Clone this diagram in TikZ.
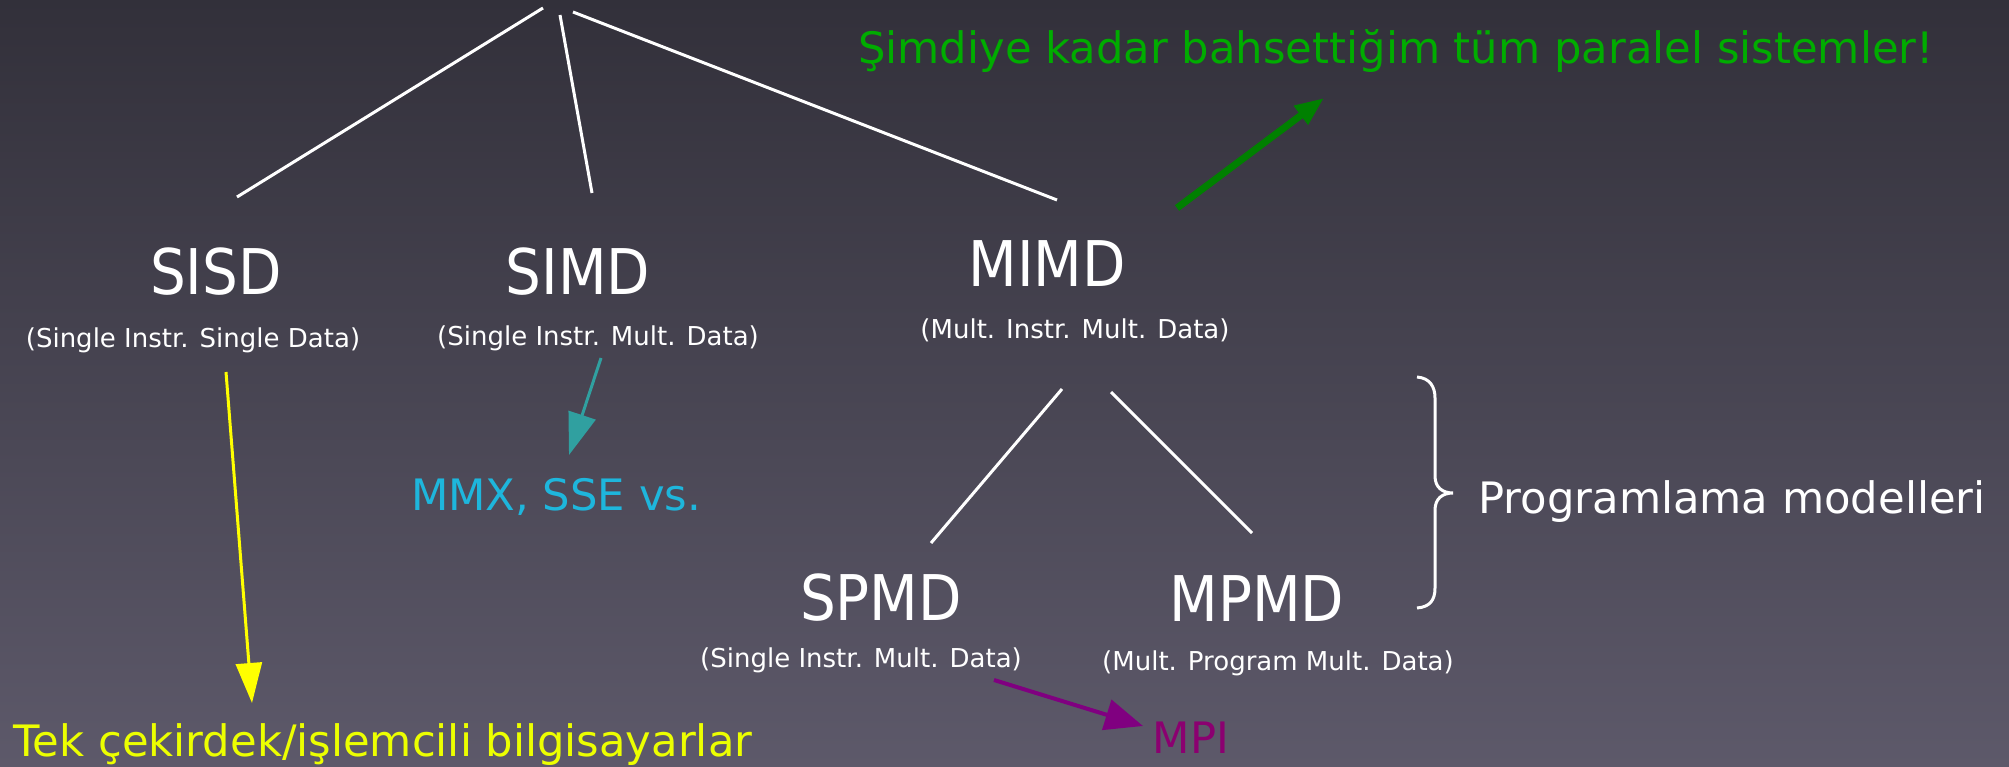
\documentclass[tikz,border=0pt]{standalone}
\usepackage{fontspec}
\setmainfont{DejaVu Sans}
\newfontfamily\narrowsans[FakeStretch=0.895]{DejaVu Sans}
\usetikzlibrary{arrows.meta}

\definecolor{bgtop}{RGB}{50,48,58}
\definecolor{bgbot}{RGB}{93,89,106}
\definecolor{hintgreen}{RGB}{0,172,0}
\definecolor{arrgreen}{RGB}{0,128,0}
\definecolor{simdcyan}{RGB}{30,182,220}
\definecolor{arrteal}{RGB}{48,160,160}
\definecolor{sisdyellow}{RGB}{236,255,0}
\definecolor{arryellow}{RGB}{255,255,0}
\definecolor{mpipurple}{RGB}{139,0,112}
\definecolor{arrpurple}{RGB}{128,0,128}

\tikzset{
  bigtxt/.style={font=\narrowsans\fontsize{63}{72}\selectfont, text=white, inner sep=0pt, anchor=base},
  midtxt/.style={font=\fontsize{43.3}{52}\selectfont, inner sep=0pt, anchor=base},
  subtxt/.style={font=\fontsize{26}{31}\selectfont, text=white, inner sep=0pt, anchor=base},
  tree/.style={draw=white, line width=3pt},
  note/.style={line width=3pt},
}

\begin{document}
\begin{tikzpicture}[x=1pt,y=-1pt]
  % slide background
  \shade[top color=bgtop, bottom color=bgbot] (0,0) rectangle (2009,767);
  \useasboundingbox (0,0) rectangle (2009,767);

  % Flynn classes
  \node[bigtxt] (sisd) at (216,294) {SISD};
  \node[bigtxt] (simd) at (578,294) {SIMD};
  \node[bigtxt] (mimd) at (1047,287) {MIMD};
  \node[subtxt] (sisdsub) at (193,347) {(Single Instr. Single Data)};
  \node[subtxt] (simdsub) at (598,345) {(Single Instr. Mult. Data)};
  \node[subtxt] (mimdsub) at (1075,338) {(Mult. Instr. Mult. Data)};

  % programming models
  \node[bigtxt] (spmd) at (881,620) {SPMD};
  \node[bigtxt] (mpmd) at (1257,621) {MPMD};
  \node[subtxt] (spmdsub) at (861,667) {(Single Instr. Mult. Data)};
  \node[subtxt] (mpmdsub) at (1278,670) {(Mult. Program Mult. Data)};

  % annotations
  \node[midtxt, text=hintgreen] (allpar) at (1396,64) {Şimdiye kadar bahsettiğim tüm paralel sistemler!};
  \node[midtxt, text=simdcyan] (mmx) at (556,510) {MMX, SSE vs.};
  \node[midtxt, text=sisdyellow] (single) at (383,756) {Tek çekirdek/işlemcili bilgisayarlar};
  \node[midtxt, text=white] (models) at (1732,513) {Programlama modelleri};
  \node[midtxt, text=mpipurple] (mpi) at (1191,753) {MPI};

  % tree branches
  \coordinate (rootA) at (543,8);
  \coordinate (rootB) at (560,15);
  \coordinate (rootC) at (573,12);
  \coordinate (topsisd) at (237,197);
  \coordinate (topsimd) at (592,193);
  \coordinate (topmimd) at (1057,200);
  \draw[tree] (rootA) -- (topsisd);
  \draw[tree] (rootB) -- (topsimd);
  \draw[tree] (rootC) -- (topmimd);

  \coordinate (mimdL) at (1062,389);
  \coordinate (mimdR) at (1111,392);
  \coordinate (topspmd) at (931,543);
  \coordinate (topmpmd) at (1252,533);
  \draw[tree] (mimdL) -- (topspmd);
  \draw[tree] (mimdR) -- (topmpmd);

  % brace grouping SPMD / MPMD
  \draw[tree, line width=3pt]
    (1417,377) .. controls (1430,378) and (1435,387) .. (1435,398)
    -- (1435,476) .. controls (1435,487) and (1442,493) .. (1453,493)
    .. controls (1442,493) and (1435,499) .. (1435,510)
    -- (1435,588) .. controls (1435,600) and (1430,607) .. (1417,608);

  % arrows to examples
  \coordinate (sisdfoot) at (226,372);
  \coordinate (singletop) at (252,703);
  \draw[note, draw=arryellow, -{Triangle[length=40pt,width=26pt]}] (sisdfoot) -- (singletop);

  \coordinate (simdfoot) at (601,358);
  \coordinate (mmxtop) at (569,455);
  \draw[note, draw=arrteal, fill=arrteal, -{Triangle[length=42pt,width=28pt]}] (simdfoot) -- (mmxtop);

  \coordinate (spmdfoot) at (994,680);
  \coordinate (mpiwest) at (1143,726);
  \draw[note, line width=4pt, draw=arrpurple, -{Triangle[length=38pt,width=31pt]}] (spmdfoot) -- (mpiwest);

  \coordinate (mimdne) at (1177,208);
  \coordinate (allparsw) at (1324,98);
  \draw[note, line width=7pt, draw=arrgreen, -{Triangle[length=29pt,width=22pt]}] (mimdne) -- (allparsw);
\end{tikzpicture}
\end{document}
